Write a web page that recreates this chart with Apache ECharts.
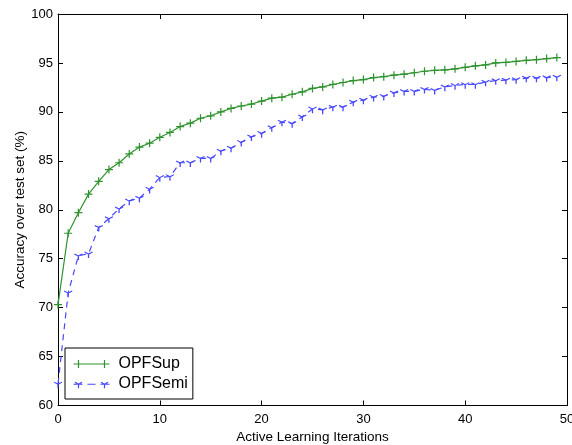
<!DOCTYPE html>
<html>
<head>
<meta charset="utf-8">
<script src="https://cdn.jsdelivr.net/npm/echarts@6/dist/echarts.min.js"></script>
<style>
  html, body { margin: 0; padding: 0; background: #fff; }
  #chart { width: 572px; height: 445px; }
</style>
</head>
<body>
<div id="chart"></div>
<script>
// ---- data ----
const iterations = [0,1,2,3,4,5,6,7,8,9,10,11,12,13,14,15,16,17,18,19,20,21,22,23,24,25,26,27,28,29,30,31,32,33,34,35,36,37,38,39,40,41,42,43,44,45,46,47,48,49];
const opfSup = [70.3,77.6,79.7,81.6,82.9,84.1,84.8,85.7,86.4,86.8,87.4,87.9,88.5,88.85,89.35,89.6,90.0,90.35,90.6,90.8,91.1,91.4,91.5,91.8,92.05,92.4,92.55,92.8,93.0,93.2,93.3,93.5,93.6,93.75,93.85,94.0,94.15,94.25,94.3,94.4,94.55,94.7,94.8,95.0,95.05,95.15,95.27,95.33,95.45,95.55];
const opfSemi = [62.2,71.5,75.3,75.5,78.2,79.1,80.1,80.9,81.2,82.1,83.3,83.4,84.8,84.8,85.25,85.25,86.0,86.3,86.9,87.45,87.8,88.4,88.95,88.8,89.5,90.3,90.2,90.5,90.5,91.0,91.2,91.5,91.6,91.95,92.1,92.1,92.3,92.2,92.55,92.7,92.8,92.8,93.05,93.2,93.25,93.3,93.45,93.45,93.5,93.55];
const seriesNames = ['OPFSup', 'OPFSemi'];
const xTitle = 'Active Learning Iterations';
const yTitle = 'Accuracy over test set (%)';

const FONT = '"Liberation Sans", Arial, Helvetica, sans-serif';
const GREEN = '#2e922e';
const BLUE = '#4747ff';
const PLUS = 'path://M0,-5L0,5M-5,0L5,0';
const TRI = 'path://M0,0L0,10M0,0L-8.66,-5M0,0L8.66,-5';

const chart = echarts.init(document.getElementById('chart'), null, { renderer: 'canvas' });

const axisCommon = {
  type: 'value',
  axisLine: { show: true, onZero: false, lineStyle: { color: '#000', width: 1 } },
  axisTick: { show: true, inside: true, length: 5, lineStyle: { color: '#000', width: 1 } },
  splitLine: { show: false }
};

const option = {
  animation: false,
  backgroundColor: '#fff',
  grid: { left: 58, right: 5, top: 14, bottom: 39.5, containLabel: false, outerBoundsMode: 'none' },
  xAxis: [
    Object.assign({}, axisCommon, {
      position: 'bottom', min: 0, max: 50, interval: 10,
      axisLabel: { show: true, margin: 7, fontSize: 13, color: '#000', fontFamily: FONT },
      name: xTitle, nameLocation: 'middle', nameGap: 25,
      nameTextStyle: { fontSize: 13.5, color: '#000', fontFamily: FONT }
    }),
    Object.assign({}, axisCommon, {
      position: 'top', min: 0, max: 50, interval: 10,
      axisLabel: { show: false }
    })
  ],
  yAxis: [
    Object.assign({}, axisCommon, {
      position: 'left', min: 60, max: 100, interval: 5,
      axisLabel: { show: true, margin: 5, fontSize: 13, color: '#000', fontFamily: FONT },
      name: yTitle, nameLocation: 'middle', nameGap: 31, nameRotate: 90,
      nameMoveOverlap: false,
      nameTextStyle: { fontSize: 13.5, color: '#000', fontFamily: FONT }
    }),
    Object.assign({}, axisCommon, {
      position: 'right', min: 60, max: 100, interval: 5,
      axisLabel: { show: false }
    })
  ],
  legend: {
    orient: 'vertical',
    left: 65, top: 348,
    padding: [8, 5, 7, 6],
    itemGap: 4,
    itemWidth: 36, itemHeight: 9,
    borderColor: '#000', borderWidth: 1,
    backgroundColor: '#fff',
    textStyle: { fontSize: 16, color: '#000', fontFamily: FONT, padding: [0, 0, 0, 4] },
    data: [
      { name: seriesNames[0], icon: 'path://M0,4.5L36,4.5M5,0.5L5,8.5M31,0.5L31,8.5',
        itemStyle: { color: 'none', borderColor: GREEN, borderWidth: 1.2 } },
      { name: seriesNames[1], icon: 'path://M0,4.5L9,4.5M5,4.5L5,8.5M5,4.5L1.5,2.5M5,4.5L8.5,2.5M14,4.5L22,4.5M27,4.5L36,4.5M31,4.5L31,8.5M31,4.5L27.5,2.5M31,4.5L34.5,2.5M18,0L18,0.01',
        itemStyle: { color: 'none', borderColor: BLUE, borderWidth: 1.2 } }
    ]
  },
  series: [
    {
      name: seriesNames[0],
      type: 'line',
      xAxisIndex: 0, yAxisIndex: 0,
      data: iterations.map((x, i) => [x, opfSup[i]]),
      symbol: PLUS,
      symbolSize: 8,
      showAllSymbol: true,
      lineStyle: { color: GREEN, width: 1.2, type: 'solid' },
      itemStyle: { color: GREEN, borderColor: GREEN, borderWidth: 1.2 },
      emphasis: { disabled: true },
      z: 3
    },
    {
      name: seriesNames[1],
      type: 'line',
      xAxisIndex: 0, yAxisIndex: 0,
      data: iterations.map((x, i) => [x, opfSemi[i]]),
      symbol: TRI,
      symbolSize: [8, 7],
      symbolKeepAspect: true,
      symbolOffset: [0, '17%'],
      showAllSymbol: true,
      lineStyle: { color: BLUE, width: 1.2, type: [6, 5] },
      itemStyle: { color: BLUE, borderColor: BLUE, borderWidth: 1.2 },
      emphasis: { disabled: true },
      z: 2
    }
  ]
};

chart.setOption(option);
</script>
</body>
</html>
